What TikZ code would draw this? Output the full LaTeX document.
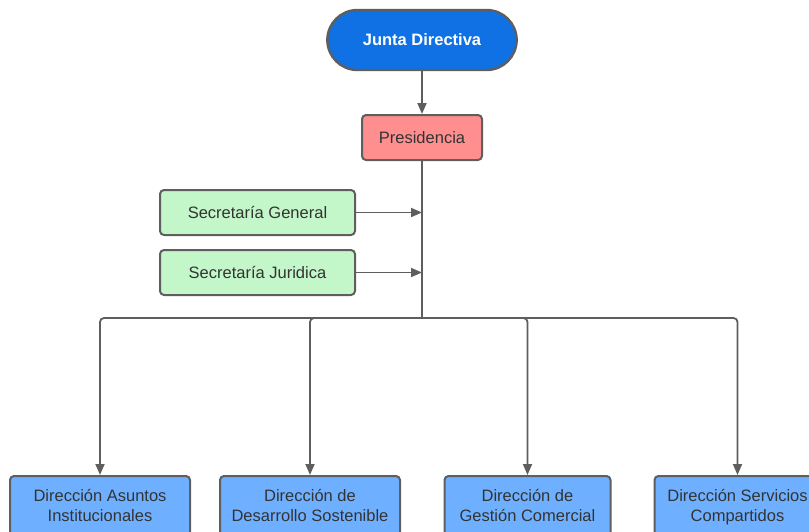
\documentclass[tikz,border=0pt]{standalone}
\usepackage{fontspec}
\setmainfont{Liberation Sans}
\usepackage{xcolor}
\definecolor{azulj}{RGB}{16,113,229}
\definecolor{rojop}{RGB}{255,143,143}
\definecolor{verdes}{RGB}{195,246,200}
\definecolor{azuld}{RGB}{110,176,255}
\definecolor{bordeg}{RGB}{94,94,94}
\definecolor{textog}{RGB}{51,51,51}
\usetikzlibrary{shapes, positioning, arrows.meta}

\tikzset{
  caja/.style = {draw=bordeg, line width=2pt, rounded corners=4pt, text=textog, font=\fontsize{16.5}{20}\selectfont, align=center},
  flecha/.style = {draw=bordeg, line width=1.8pt, -{Triangle[length=11pt,width=9pt]}},
  linea/.style = {draw=bordeg, line width=1.8pt}
}

\begin{document}
\begin{tikzpicture}[x=1pt, y=-1pt]
      \useasboundingbox (0,0) rectangle (809,531);

      % Junta
      \node[draw=bordeg, line width=2.4pt, fill=azulj, rounded rectangle, minimum width=196pt, minimum height=60pt, text=white, font=\bfseries\fontsize{16.5}{20}\selectfont] (junta) at (422,40) {Junta Directiva};

      % Presidencia
      \node[caja, fill=rojop, minimum width=120pt, minimum height=45pt] (pres) at (422,137.5) {Presidencia};

      % Secretarias
      \node[caja, fill=verdes, minimum width=195pt, minimum height=45pt] (secg) at (257.5,212.5) {Secretaría General};
      \node[caja, fill=verdes, minimum width=195pt, minimum height=45pt] (secj) at (257.5,272.5) {Secretaría Juridica};

      % Direcciones
      \node[caja, fill=azuld, anchor=north, minimum width=180pt, inner ysep=13pt, text depth=30pt] (dir1) at (100,475) {Dirección Asuntos\\Institucionales};
      \node[caja, fill=azuld, anchor=north, minimum width=180pt, inner ysep=13pt, text depth=30pt] (dir2) at (310,475) {Dirección de\\Desarrollo Sostenible};
      \node[caja, fill=azuld, anchor=north, minimum width=166pt, inner ysep=13pt, text depth=30pt] (dir3) at (527.5,475) {Dirección de\\Gestión Comercial};
      \node[caja, fill=azuld, anchor=north, minimum width=166pt, inner ysep=13pt, text depth=30pt] (dir4) at (737.5,475) {Dirección Servicios\\Compartidos};

      % Conectores
      \coordinate (bus) at (422,318);
      \coordinate (ga) at (422,212.5);
      \coordinate (gb) at (422,272.5);
      \draw[flecha] (junta) -- (pres);
      \draw[linea] (pres) -- (bus);
      \draw[flecha] (secg) -- (ga);
      \draw[flecha] (secj) -- (gb);
      \foreach \d in {dir1, dir2, dir3, dir4}
        \draw[flecha, rounded corners=4pt] (bus) -| (\d.north);
    \end{tikzpicture}
\end{document}
